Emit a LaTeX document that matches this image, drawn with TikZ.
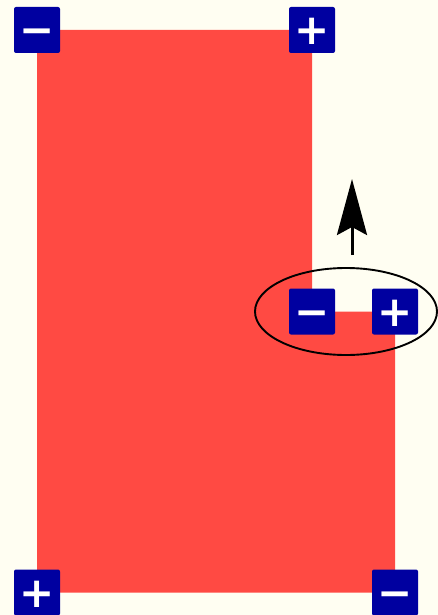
\documentclass[tikz,border=0pt]{standalone}
\usepackage{fontspec}
\newfontfamily\signfont{DejaVu Sans}
\usetikzlibrary{shapes,positioning,arrows.meta,backgrounds}

\definecolor{paper}{HTML}{FFFEF2}
\definecolor{plate}{HTML}{FF4A43}
\definecolor{pole}{HTML}{0000A0}

\begin{document}
\begin{tikzpicture}[x=1pt,y=-1pt,thick]
        %
        % `terminal' is used for the +/- corner boxes.
        % `loop' is used for the ring round the moving pair.
        \tikzstyle{terminal} = [fill=pole,text=white,minimum size=46pt,inner sep=0pt,rounded corners=2pt,
             font=\signfont\bfseries\fontsize{42}{42}\selectfont,text height=30pt,text depth=0pt]
        \tikzstyle{loop} = [draw,shape=ellipse,minimum width=182pt,minimum height=87pt,inner sep=0pt,line width=1.9pt]
        \useasboundingbox (0,0) rectangle (438,615);
        %
        % Corners
        \node[terminal] (tl) at (37,30) {−};
        \node[terminal] (tr) at (312,30) {+};
        \node[terminal] (ml) at (312,311.5) {−};
        \node[terminal] (mr) at (395,311.5) {+};
        \node[terminal] (bl) at (37,592.5) {+};
        \node[terminal] (br) at (395,592.5) {−};
        %
        % Plate
        \begin{scope}[on background layer]
        \fill[paper] (0,0) rectangle (438,615);
        \fill[plate] (tl.center) -- (tr.center) -- (ml.center) -- (mr.center) -- (br.center) -- (bl.center) -- cycle;
        \end{scope}
        %
        % Ring and arrow
        \node[loop] (ring) at (346,311.5) {};
        \coordinate (foot) at (352,255);
        \coordinate (head) at (352,179);
        \draw[line width=3pt,-{Stealth[length=56pt,width=30pt,inset=8pt]}] (foot) -- (head);
        %
\end{tikzpicture}
\end{document}
